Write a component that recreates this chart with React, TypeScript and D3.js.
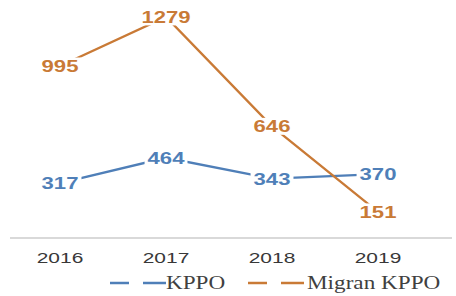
import { useEffect, useRef } from "react";
import * as d3 from "d3";

const years = ["2016", "2017", "2018", "2019"];
const kppo = [317, 464, 343, 370];
const migranKppo = [995, 1279, 646, 151];

const seriesNames = ["KPPO", "Migran KPPO"];
const seriesColors = ["#4f7fb8", "#c97a36"];

const WIDTH = 456;
const HEIGHT = 296;

export const App = () => {
  const chartRef = useRef<HTMLDivElement>(null);

  useEffect(() => {
    d3.select(chartRef.current).select("svg").remove();

    const svg = d3
      .select(chartRef.current)
      .append("svg")
      .attr("width", WIDTH)
      .attr("height", HEIGHT)
      .style("display", "block")
      .style("background", "#ffffff");

    const x = d3.scalePoint<string>().domain(years).range([60, 378]);
    const y = d3.scaleLinear().domain([0, 1400]).range([238, -4]);

    // baseline
    svg
      .append("line")
      .attr("x1", 10)
      .attr("x2", 452)
      .attr("y1", y(0))
      .attr("y2", y(0))
      .attr("stroke", "#d9d9d9")
      .attr("stroke-width", 2);

    // category labels
    svg
      .selectAll(".tick-label")
      .data(years)
      .enter()
      .append("text")
      .attr("class", "tick-label")
      .attr("transform", (d) => `translate(${x(d)}, 258) scale(1.35, 1)`)
      .attr("text-anchor", "middle")
      .attr("dominant-baseline", "central")
      .attr("font-family", "'Liberation Sans', Arial, sans-serif")
      .attr("font-size", 15.5)
      .attr("fill", "#383838")
      .text((d) => d);

    const series = [kppo, migranKppo];
    const line = d3
      .line<number>()
      .x((_, i) => x(years[i]) as number)
      .y((d) => y(d));

    series.forEach((values, s) => {
      svg
        .append("path")
        .attr("d", line(values) as string)
        .attr("fill", "none")
        .attr("stroke", seriesColors[s])
        .attr("stroke-width", 2.3);
    });

    // data labels, on a white box so the line stops short of them
    series.forEach((values, s) => {
      const g = svg
        .selectAll(`.lbl-${s}`)
        .data(values)
        .enter()
        .append("g")
        .attr("class", `lbl-${s}`)
        .attr("transform", (d, i) => `translate(${x(years[i])}, ${y(d)})`);

      const t = g
        .append("text")
        .attr("transform", "scale(1.3, 1)")
        .attr("text-anchor", "middle")
        .attr("dominant-baseline", "central")
        .attr("font-family", "'Liberation Sans', Arial, sans-serif")
        .attr("font-weight", "bold")
        .attr("font-size", 17)
        .attr("fill", seriesColors[s])
        .text((d) => d);

      t.each(function () {
        const b = (this as SVGTextElement).getBBox();
        d3.select((this as SVGTextElement).parentNode as SVGGElement)
          .insert("rect", "text")
          .attr("x", b.x * 1.3 - 3)
          .attr("y", b.y + 1)
          .attr("width", b.width * 1.3 + 6)
          .attr("height", b.height - 2)
          .attr("fill", "#ffffff");
      });
    });

    // legend
    const legendItems = [
      { x: 110, textX: 166 },
      { x: 248, textX: 307 },
    ];
    legendItems.forEach((it, s) => {
      const ly = 283;
      [
        [0, 19],
        [33, 56],
      ].forEach(([a, b]) => {
        svg
          .append("line")
          .attr("x1", it.x + a)
          .attr("x2", it.x + b)
          .attr("y1", ly)
          .attr("y2", ly)
          .attr("stroke", seriesColors[s])
          .attr("stroke-width", 2.5);
      });
      svg
        .append("text")
        .attr("transform", `translate(${it.textX}, ${ly}) scale(1.22, 1)`)
        .attr("dominant-baseline", "central")
        .attr("font-family", "'Liberation Serif', 'Times New Roman', serif")
        .attr("font-size", 19)
        .attr("fill", "#404040")
        .text(seriesNames[s]);
    });
  }, []);

  return (
    <div
      ref={chartRef}
      style={{ position: "fixed", left: 0, top: 0, width: WIDTH, height: HEIGHT }}
    />
  );
};

export default App;
